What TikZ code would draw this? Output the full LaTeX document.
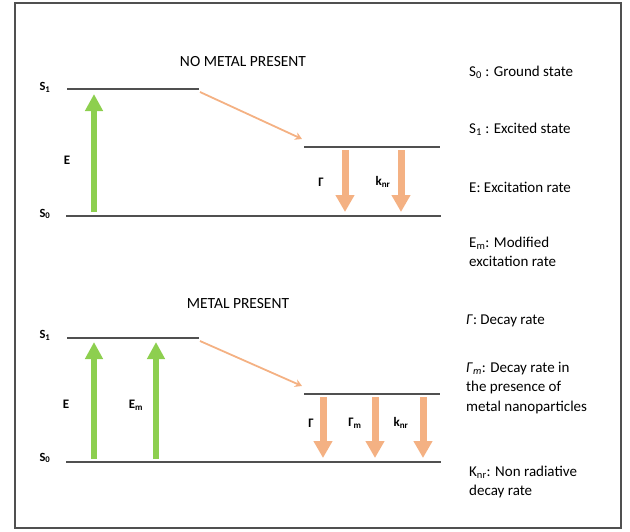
\documentclass[tikz,border=0pt]{standalone}
\usepackage{fontspec}
\setmainfont{Carlito}
\definecolor{mygreen}{HTML}{8DCF4F}
\definecolor{myorange}{HTML}{F4B183}
\definecolor{mygray}{HTML}{505050}
\usetikzlibrary{arrows.meta,positioning}

\begin{document}
\begin{tikzpicture}[x=1pt,y=-1pt,
        level/.style={draw=mygray,line width=1.6pt},
        excite/.style={draw=mygreen,line width=6pt,-{Triangle[width=17pt,length=17pt]}},
        decay/.style={draw=myorange,line width=7pt,-{Triangle[width=18pt,length=17pt]}},
        relax/.style={draw=myorange,line width=1.8pt,-{Stealth[width=8pt,length=7pt]}},
        lvl/.style={font=\bfseries\fontsize{12.5}{14}\selectfont,inner sep=1pt},
        rate/.style={font=\bfseries\fontsize{13}{15}\selectfont,inner sep=1pt},
        title/.style={font=\fontsize{15.5}{18}\selectfont},
        legend/.style={font=\fontsize{15}{19.5}\selectfont,align=left,anchor=west,inner sep=0pt}
        ]
        \useasboundingbox (0,0) rectangle (630,531);
        \draw[mygray,line width=1.5pt] (15,3) rectangle (621,528);

        % no metal present
        \node[title] (t1) at (243,62) {NO METAL PRESENT};
        \node[lvl] (a1) at (45,87) {S\textsubscript{1}};
        \node[lvl] (a0) at (45,214) {S\textsubscript{0}};
        \coordinate (a1l) at (67,89);
        \coordinate (a1r) at (199,89);
        \coordinate (a0l) at (66,216);
        \coordinate (a0r) at (441,216);
        \coordinate (a2l) at (304,147);
        \coordinate (a2r) at (440,147);
        \draw[level] (a1l) -- (a1r);
        \draw[level] (a0l) -- (a0r);
        \draw[level] (a2l) -- (a2r);
        \coordinate (aEs) at (94,212);
        \coordinate (aEe) at (94,94);
        \draw[excite] (aEs) -- (aEe);
        \node[rate] (aE) at (67,160) {E};
        \coordinate (aRs) at (200,92);
        \coordinate (aRe) at (302,139);
        \draw[relax] (aRs) -- (aRe);
        \coordinate (aGs) at (345,150);
        \coordinate (aGe) at (345,212);
        \draw[decay] (aGs) -- (aGe);
        \node[rate] (aG) at (321,182) {Γ};
        \coordinate (aKs) at (401,150);
        \coordinate (aKe) at (401,212);
        \draw[decay] (aKs) -- (aKe);
        \node[rate] (aK) at (383,182) {k\textsubscript{nr}};

        % metal present
        \node[title] (t2) at (238,304) {METAL PRESENT};
        \node[lvl] (b1) at (45,335) {S\textsubscript{1}};
        \node[lvl] (b0) at (45,458) {S\textsubscript{0}};
        \coordinate (b1l) at (67,338);
        \coordinate (b1r) at (199,338);
        \coordinate (b0l) at (66,462);
        \coordinate (b0r) at (441,462);
        \coordinate (b2l) at (304,394);
        \coordinate (b2r) at (440,394);
        \draw[level] (b1l) -- (b1r);
        \draw[level] (b0l) -- (b0r);
        \draw[level] (b2l) -- (b2r);
        \coordinate (bEs) at (94,459);
        \coordinate (bEe) at (94,342);
        \draw[excite] (bEs) -- (bEe);
        \node[rate] (bE) at (66,404) {E};
        \coordinate (bMs) at (156,459);
        \coordinate (bMe) at (156,342);
        \draw[excite] (bMs) -- (bMe);
        \node[rate] (bM) at (136,405) {E\textsubscript{m}};
        \coordinate (bRs) at (200,341);
        \coordinate (bRe) at (302,386);
        \draw[relax] (bRs) -- (bRe);
        \coordinate (bGs) at (323,397);
        \coordinate (bGe) at (323,458);
        \draw[decay] (bGs) -- (bGe);
        \node[rate] (bG) at (311,423) {Γ};
        \coordinate (bHs) at (375,397);
        \coordinate (bHe) at (375,458);
        \draw[decay] (bHs) -- (bHe);
        \node[rate] (bH) at (355,423) {Γ\textsubscript{m}};
        \coordinate (bKs) at (423,397);
        \coordinate (bKe) at (423,458);
        \draw[decay] (bKs) -- (bKe);
        \node[rate] (bK) at (401,423) {k\textsubscript{nr}};

        % the legend
        \node[legend] (l1) at (469,72) {S\textsubscript{0} : Ground state};
        \node[legend] (l2) at (469,129) {S\textsubscript{1} : Excited state};
        \node[legend] (l3) at (469,187) {E: Excitation rate};
        \node[legend] (l4) at (469,252) {E\textsubscript{m}: Modified\\excitation rate};
        \node[legend] (l5) at (466,321) {\textit{Γ}: Decay rate};
        \node[legend] (l6) at (466,388) {\textit{Γ}\textsubscript{\textit{m}}: Decay rate in\\the presence of\\metal nanoparticles};
        \node[legend] (l7) at (469,482) {K\textsubscript{nr}: Non radiative\\decay rate};
\end{tikzpicture}
\end{document}
